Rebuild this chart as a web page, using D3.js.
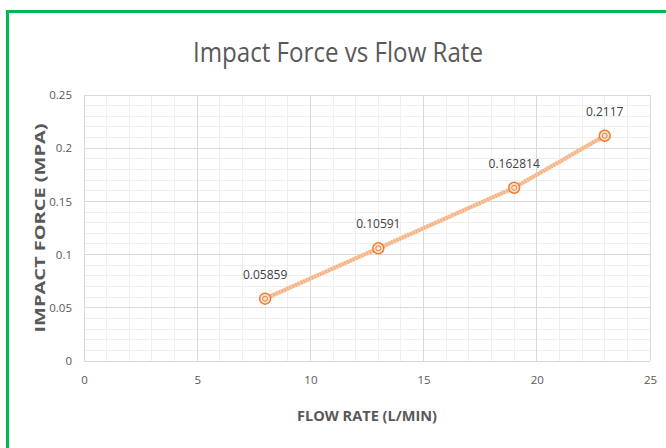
<!DOCTYPE html>
<html><head><meta charset="utf-8">
<script src="https://cdn.jsdelivr.net/npm/d3@7"></script>
<style>html,body{margin:0;padding:0;background:#fff;}svg{display:block;}</style>
</head><body>
<svg id="c" width="666" height="448"></svg>
<script>
const flowRate = [8, 13, 19, 23];
const impactForce = [0.05859, 0.10591, 0.162814, 0.2117];
const pointLabels = ["0.05859", "0.10591", "0.162814", "0.2117"];
const xTicks = [0, 5, 10, 15, 20, 25];
const yTicks = [0, 0.05, 0.1, 0.15, 0.2, 0.25];
const yTickLabels = ["0", "0.05", "0.1", "0.15", "0.2", "0.25"];

const svg = d3.select("#c");
const font = "'Open Sans', 'Liberation Sans', sans-serif";
const W = 666, H = 448;
const pLeft = 84, pRight = 650, pTop = 95, pBottom = 361;
const x = d3.scaleLinear().domain([0, 25]).range([pLeft, pRight]);
const y = d3.scaleLinear().domain([0, 0.25]).range([pBottom, pTop]);

svg.append("rect").attr("width", W).attr("height", H).attr("fill", "#fff");
// green frame
svg.append("path").attr("d", `M7.5,${H} V11.5 H${W}`).attr("fill", "none")
  .attr("stroke", "#00B84F").attr("stroke-width", 3);

// title
svg.append("text").attr("x", 338).attr("y", 62).attr("text-anchor", "middle")
  .attr("font-family", font).attr("font-size", 27).attr("font-weight", 400)
  .attr("fill", "#595959").attr("textLength", 290).attr("lengthAdjust", "spacingAndGlyphs")
  .text("Impact Force vs Flow Rate");

// minor grid
const g = svg.append("g");
g.selectAll(".mx").data(d3.range(0, 25.001, 1)).join("line")
  .attr("x1", d => x(d)).attr("x2", d => x(d)).attr("y1", pTop).attr("y2", pBottom)
  .attr("stroke", "#EFEFEF").attr("stroke-width", 1).attr("shape-rendering", "crispEdges");
g.selectAll(".my").data(d3.range(0, 0.2501, 0.01)).join("line")
  .attr("y1", d => y(d)).attr("y2", d => y(d)).attr("x1", pLeft).attr("x2", pRight)
  .attr("stroke", "#EFEFEF").attr("stroke-width", 1).attr("shape-rendering", "crispEdges");
// major grid
g.selectAll(".Mx").data(xTicks).join("line")
  .attr("x1", d => x(d)).attr("x2", d => x(d)).attr("y1", pTop).attr("y2", pBottom)
  .attr("stroke", "#D9D9D9").attr("stroke-width", 1).attr("shape-rendering", "crispEdges");
g.selectAll(".My").data(yTicks).join("line")
  .attr("y1", d => y(d)).attr("y2", d => y(d)).attr("x1", pLeft).attr("x2", pRight)
  .attr("stroke", "#D9D9D9").attr("stroke-width", 1).attr("shape-rendering", "crispEdges");

// axes labels via d3 axes
const xAxis = svg.append("g").attr("transform", `translate(0,${pBottom})`)
  .call(d3.axisBottom(x).tickValues(xTicks).tickSize(0).tickPadding(15).tickFormat(d3.format("d")));
const yAxis = svg.append("g").attr("transform", `translate(${pLeft},0)`)
  .call(d3.axisLeft(y).tickValues(yTicks).tickSize(0).tickPadding(12).tickFormat((d, i) => yTickLabels[i]));
[xAxis, yAxis].forEach(a => {
  a.select(".domain").remove();
  a.selectAll("text").attr("font-family", font).attr("font-size", 11.5).attr("fill", "#595959");
});

// axis titles
svg.append("text").attr("x", 367).attr("y", 421).attr("text-anchor", "middle")
  .attr("font-family", font).attr("font-size", 15).attr("font-weight", 700)
  .attr("fill", "#595959").attr("textLength", 140).attr("lengthAdjust", "spacingAndGlyphs")
  .text("FLOW RATE (L/MIN)");
svg.append("text").attr("transform", "translate(45,228) rotate(-90)").attr("text-anchor", "middle")
  .attr("font-family", font).attr("font-size", 14).attr("font-weight", 700)
  .attr("fill", "#595959").attr("textLength", 209).attr("lengthAdjust", "spacingAndGlyphs")
  .text("IMPACT FORCE (MPA)");

const pts = flowRate.map((f, i) => ({ x: f, y: impactForce[i], l: pointLabels[i] }));
// line
const line = d3.line().x(d => x(d.x)).y(d => y(d.y));
svg.append("path").datum(pts).attr("d", line).attr("fill", "none")
  .attr("stroke", "#F8C9A4").attr("stroke-width", 4).attr("stroke-linecap", "round");
svg.append("path").datum(pts).attr("d", line).attr("fill", "none")
  .attr("stroke", "#F4B183").attr("stroke-width", 4).attr("stroke-dasharray", "1.5,1.5");

// markers
const m = svg.selectAll(".pt").data(pts).join("g").attr("transform", d => `translate(${x(d.x)},${y(d.y)})`);
m.append("circle").attr("r", 5.5).attr("fill", "#FBE3D3").attr("stroke", "#ED7D31").attr("stroke-width", 1.5);
m.append("circle").attr("r", 2.5).attr("fill", "none").attr("stroke", "#ED7D31").attr("stroke-width", 1);

// data labels
svg.selectAll(".lbl").data(pts).join("text")
  .attr("x", d => x(d.x)).attr("y", d => y(d.y) - 20).attr("text-anchor", "middle")
  .attr("font-family", font).attr("font-size", 12).attr("fill", "#404040")
  .text(d => d.l);
</script>
</body></html>
